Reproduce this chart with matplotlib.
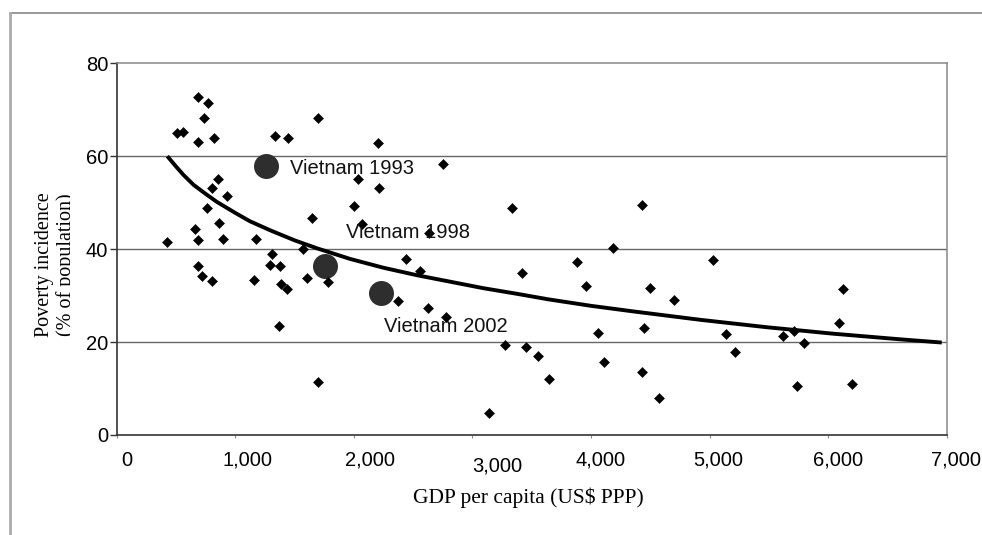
import numpy as np
import matplotlib
matplotlib.use('Agg')
import matplotlib.pyplot as plt
from matplotlib.lines import Line2D
from matplotlib.transforms import ScaledTranslation, Bbox

# cross-country points: GDP per capita (US$ PPP) and poverty incidence (%)
gdp = [683, 767, 739, 506, 562, 689, 821, 1335, 1442, 1701, 2201, 2755,
       852, 801, 928, 765, 866, 661, 689, 900, 427, 1172, 1650, 2038,
       2215, 2004, 2072, 2637, 1307, 1293, 1377, 1569, 2440, 2558, 689,
       717, 801, 1158, 1386, 1439, 1602, 1779, 2375, 2628, 2774, 1372,
       1701, 3143, 3275, 3452, 3556, 3650, 3337, 3421,
       4433, 4189, 3880, 3958, 4498, 4703, 5026, 4057, 4447, 4110, 4433,
       4574, 5136, 5215, 5617, 5715, 5797, 5735, 6128, 6095, 6199]
poverty = [72.8, 71.5, 68.2, 64.9, 65.3, 63.1, 64.0, 64.4, 64.0, 68.3, 62.8, 58.3,
           55.1, 53.2, 51.5, 48.9, 45.6, 44.3, 42.0, 42.2, 41.5, 42.2, 46.6, 55.2,
           53.2, 49.3, 45.4, 43.5, 39.0, 36.6, 36.4, 40.0, 37.8, 35.2, 36.4,
           34.3, 33.1, 33.3, 32.4, 31.4, 33.7, 32.9, 28.9, 27.3, 25.3, 23.5,
           11.3, 4.8, 19.4, 19.0, 17.0, 12.1, 48.8, 34.9,
           49.5, 40.2, 37.2, 32.1, 31.6, 29.1, 37.7, 22.0, 23.1, 15.8, 13.5,
           7.9, 21.7, 17.8, 21.4, 22.4, 19.9, 10.6, 31.4, 24.2, 11.0]

# Vietnam observations
vn_labels = ['Vietnam 1993', 'Vietnam 1998', 'Vietnam 2002']
vn_gdp = [1255, 1757, 2229]
vn_poverty = [57.9, 36.4, 30.5]
vn_text_offset = [(24, -3), (21, 33), (3, -33)]  # pixels from the point

# trend line
trend_gdp = [427, 500, 562, 650, 750, 843, 1000, 1124, 1300, 1500, 1687,
             1968, 2249, 2530, 2811, 3092, 3373, 3640, 4000, 4357, 4919,
             5481, 6044, 6605, 6958]
trend_pov = [60.0, 57.8, 56.0, 53.8, 51.9, 50.2, 47.8, 46.0, 44.0, 41.9, 40.2,
             37.9, 36.0, 34.4, 33.0, 31.6, 30.4, 29.2, 27.8, 26.6, 24.8,
             23.2, 21.8, 20.6, 19.9]

xticks = [0, 1000, 2000, 3000, 4000, 5000, 6000, 7000]
xtick_labels = ['0', '1,000', '2,000', '3,000', '4,000', '5,000', '6,000', '7,000']
yticks = [0, 20, 40, 60, 80]

W, H = 982, 535
fig = plt.figure(figsize=(W / 100, H / 100), dpi=100)
ax = fig.add_axes([116.7 / W, 1 - 435 / H, 830 / W, (435 - 63.3) / H])

ax.set_xlim(0, 7000)
ax.set_ylim(0, 80)

# gridlines
for yv in yticks[1:-1]:
    ax.axhline(yv, color='#666666', lw=1.0, zorder=1)

ax.plot(trend_gdp, trend_pov, color='black', lw=2.8, zorder=2,
        solid_capstyle='butt', solid_joinstyle='round')
ax.plot(vn_gdp, vn_poverty, 'o', ms=18, color='#2e2e2e', mew=0, zorder=3)
ax.plot(gdp, poverty, 'D', ms=5.3, color='black', mew=0.4, zorder=4)

for lab, gx, py, off in zip(vn_labels, vn_gdp, vn_poverty, vn_text_offset):
    ax.annotate(lab, xy=(gx, py), xytext=off, textcoords='offset pixels',
                ha='left', va='center', fontsize=14.5,
                family='Liberation Sans', color='#111111', zorder=5)

# spines
for s in ['top', 'right']:
    ax.spines[s].set_color('#888888')
    ax.spines[s].set_linewidth(1.1)
for s in ['left', 'bottom']:
    ax.spines[s].set_color('#333333')
    ax.spines[s].set_linewidth(1.2)

ax.set_yticks(yticks)
ax.set_yticklabels([str(v) for v in yticks], family='Liberation Sans',
                   fontsize=14.5)
ax.tick_params(axis='y', direction='out', length=5, width=1,
               color='#333333', pad=1)
ax.set_xticks(xticks)
ax.set_xticklabels(xtick_labels, family='Liberation Sans', fontsize=14.5)
ax.tick_params(axis='x', direction='out', length=2.5, width=0.8,
               color='#888888', pad=9)

# the scanned labels sit a little off their ticks
label_dx = [10, 12, 16, 25, 10, 9, 10, 9]
label_dy = [0, 0, 0, -6, 0, 0, 0, 0]
for lbl, dx, dy in zip(ax.get_xticklabels(), label_dx, label_dy):
    lbl.set_transform(lbl.get_transform() +
                      ScaledTranslation(dx / 100, dy / 100, fig.dpi_scale_trans))

fig.text(528 / W, 1 - 498 / H, 'GDP per capita (US$ PPP)', ha='center',
         va='center', family='Liberation Serif', fontsize=15.5)
fig.text(44 / W, 1 - 265 / H, 'Poverty incidence', rotation=90, ha='center',
         va='center', family='Liberation Serif', fontsize=14.5)
# second line is cut off in the scan
t2 = fig.text(66 / W, 1 - 265 / H, '(% of population)', rotation=90,
              ha='center', va='center', family='Liberation Serif',
              fontsize=14.5)
t2.set_clip_box(Bbox([[0, 0], [70, H]]))

# outer frame
fig.add_artist(Line2D([11 / W, 1], [1 - 13 / H, 1 - 13 / H],
                      transform=fig.transFigure, color='#888888', lw=1.2))
fig.add_artist(Line2D([10 / W, 10 / W], [0, 1 - 13 / H],
                      transform=fig.transFigure, color='#aaaaaa', lw=2))

fig.savefig('out.png', dpi=100)
